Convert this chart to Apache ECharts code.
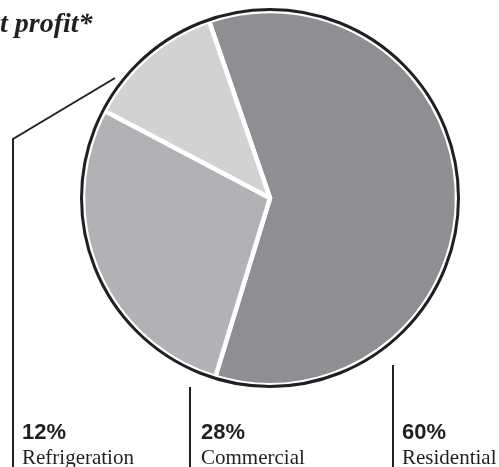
<!DOCTYPE html>
<html><head><meta charset="utf-8">
<script src="https://cdn.jsdelivr.net/npm/echarts@6/dist/echarts.min.js"></script>
<style>html,body{margin:0;padding:0;background:#fff}#c{width:499px;height:467px}</style>
</head><body><div id="c"></div>
<script>
const categories = ['Residential', 'Commercial', 'Refrigeration'];
const shares = [60, 28, 12];
const titleText = 't profit*';

const colors = ['#8e8f92', '#b1b2b5', '#d1d2d4'];
// label layout (left edge of text, leader line geometry)
const labelPos = {
  Residential: {x: 402, line: [[393, 365], [393, 365], [393, 470]]},
  Commercial: {x: 201, line: [[190, 387], [190, 387], [190, 470]]},
  Refrigeration: {x: 22, line: [[115, 78], [13, 139], [13, 470]]}
};

const chart = echarts.init(document.getElementById('c'), null, {renderer: 'canvas'});
chart.setOption({
  animation: false,
  backgroundColor: '#fff',
  graphic: [{
    type: 'text', left: 0, top: 11,
    style: {text: titleText, font: 'italic bold 28px "Liberation Serif", serif', fill: '#231f20'}
  }],
  series: [{
    type: 'pie',
    center: [270, 198],
    radius: [0, 187],
    startAngle: 109,
    clockwise: true,
    silent: true,
    avoidLabelOverlap: false,
    data: categories.map((c, i) => ({name: c, value: shares[i], itemStyle: {color: colors[i]}})),
    itemStyle: {borderColor: '#fff', borderWidth: 4.5},
    label: {
      show: true,
      position: 'outside',
      overflow: 'none',
      width: 200,
      formatter: p => '{p|' + p.value + '%}\n{n|' + p.name + '}',
      rich: {
        p: {fontFamily: '"Liberation Sans", Arial, sans-serif', fontWeight: 'bold', fontSize: 22, color: '#231f20', lineHeight: 26},
        n: {fontFamily: '"Liberation Serif", serif', fontSize: 21, color: '#231f20', lineHeight: 25}
      }
    },
    labelLine: {show: true, lineStyle: {color: '#231f20', width: 2}},
    labelLayout: function (params) {
      const name = categories[params.dataIndex];
      const lp = labelPos[name];
      return {x: lp.x, y: 420, align: 'left', verticalAlign: 'top', hideOverlap: false, moveOverlap: null, labelLinePoints: lp.line};
    }
  }, {
    type: 'pie',
    center: [270, 198],
    radius: [0, 188.5],
    silent: true,
    z: 3,
    label: {show: false},
    labelLine: {show: false},
    data: [{value: 1, itemStyle: {color: 'rgba(0,0,0,0)', borderColor: '#231f20', borderWidth: 3}}]
  }]
});
</script></body></html>
